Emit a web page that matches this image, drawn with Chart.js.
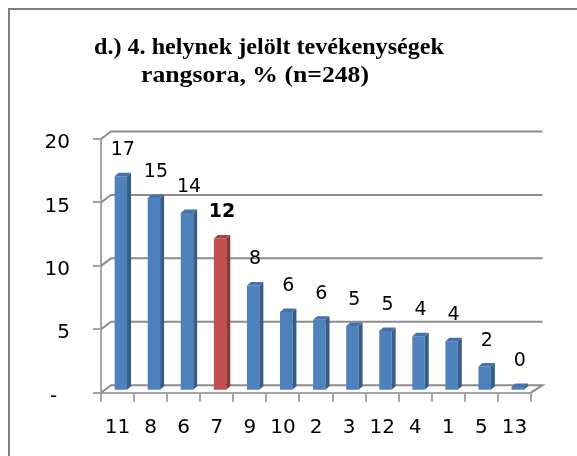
<!DOCTYPE html>
<html>
<head>
<meta charset="utf-8">
<script src="https://cdn.jsdelivr.net/npm/chart.js@4"></script>
<style>
  html, body { margin: 0; padding: 0; background: #fff; overflow: hidden; }
  #frame { position: absolute; left: 8px; top: 8px; width: 700px; height: 600px; border-left: 2px solid #808080; border-top: 2px solid #808080; }
  #wrap { position: absolute; left: 0; top: 0; width: 577px; height: 456px; }
</style>
</head>
<body>
<div id="frame"></div>
<div id="wrap"><canvas id="c" width="577" height="456"></canvas></div>
<script>
// ---- data ----
const categories = ['11', '8', '6', '7', '9', '10', '2', '3', '12', '4', '1', '5', '13'];
const values = [16.9, 15.2, 14.0, 12.0, 8.3, 6.2, 5.6, 5.1, 4.7, 4.3, 3.9, 1.9, 0.3];
const highlightIndex = 3;
const yTicks = [0, 5, 10, 15, 20];
const titleLines = ['d.) 4. helynek jelölt tevékenységek', 'rangsora, % (n=248)'];

// ---- styling ----
const BLUE = '#4F81BD', BLUE_SIDE = '#385D8A', BLUE_TOP = '#4672AA';
const RED = '#C0504D', RED_SIDE = '#8C3836', RED_TOP = '#A8443F';
const GRID = '#8c8c8c', AXIS = '#a6a6a6';
const DX = 10, DY = -7.5;          // depth of the 3D box
const BX = 3.3, BY = -2;           // bar offset into depth
const FX = 4, FY = -3.5;           // bar depth faces
const FONT_FAMILY = '"DejaVu Sans"';
const LBL_FONT = '19px ' + FONT_FAMILY;

const threeD = {
  id: 'threeD',
  beforeDatasetsDraw(chart) {
    const ctx = chart.ctx, y = chart.scales.y, a = chart.chartArea;
    ctx.save();
    ctx.lineWidth = 2;
    ctx.strokeStyle = GRID;
    yTicks.forEach(v => {
      const py = y.getPixelForValue(v);
      ctx.beginPath();
      ctx.moveTo(a.left, py);
      ctx.lineTo(a.left + DX, py + DY);
      ctx.lineTo(a.right + DX + 1.5, py + DY);
      if (v === 0) ctx.lineTo(a.right, py);
      ctx.stroke();
    });
    ctx.restore();
    ctx.save();
    ctx.translate(BX, BY);
  },
  afterDatasetsDraw(chart) {
    const ctx = chart.ctx;
    const meta = chart.getDatasetMeta(0);
    meta.data.forEach((bar, i) => {
      const p = bar.getProps(['x', 'y', 'base', 'width'], true);
      const l = p.x - p.width / 2, r = p.x + p.width / 2;
      const hi = i === highlightIndex;
      ctx.fillStyle = hi ? RED_SIDE : BLUE_SIDE;
      ctx.beginPath();
      ctx.moveTo(r, p.y); ctx.lineTo(r + FX, p.y + FY);
      ctx.lineTo(r + FX, p.base + FY); ctx.lineTo(r, p.base);
      ctx.closePath(); ctx.fill();
      ctx.fillStyle = hi ? RED_TOP : BLUE_TOP;
      ctx.beginPath();
      ctx.moveTo(l, p.y); ctx.lineTo(l + FX, p.y + FY);
      ctx.lineTo(r + FX, p.y + FY); ctx.lineTo(r, p.y);
      ctx.closePath(); ctx.fill();
    });
    ctx.restore();
    // data labels
    ctx.save();
    ctx.fillStyle = '#000';
    ctx.textAlign = 'center';
    ctx.textBaseline = 'alphabetic';
    meta.data.forEach((bar, i) => {
      const p = bar.getProps(['x', 'y'], true);
      ctx.font = (i === highlightIndex ? 'bold ' : '') + LBL_FONT;
      ctx.fillText(values[i].toFixed(0), p.x + BX + 2, p.y + BY - 21);
    });
    ctx.restore();
  },
  afterDraw(chart) {
    const ctx = chart.ctx;
    ctx.save();
    ctx.fillStyle = '#000';
    ctx.font = 'bold 24px "Liberation Serif"';
    ctx.textAlign = 'center';
    ctx.textBaseline = 'alphabetic';
    const lines = [
      { text: titleLines[0], cx: 269, base: 54, w: 350 },
      { text: titleLines[1], cx: 255, base: 82, w: 228 }
    ];
    lines.forEach(L => {
      const m = ctx.measureText(L.text).width;
      ctx.save();
      ctx.translate(L.cx, L.base);
      ctx.scale(L.w / m, 1);
      ctx.fillText(L.text, 0, 0);
      ctx.restore();
    });
    ctx.restore();
  }
};

new Chart(document.getElementById('c'), {
  type: 'bar',
  data: {
    labels: categories,
    datasets: [{
      data: values,
      backgroundColor: values.map((v, i) => i === highlightIndex ? RED : BLUE),
      borderWidth: 0,
      barPercentage: 0.375,
      categoryPercentage: 1
    }]
  },
  options: {
    responsive: false,
    animation: false,
    devicePixelRatio: 1,
    layout: { padding: { top: 139, right: 46, left: 0, bottom: 0 } },
    plugins: { legend: { display: false }, title: { display: false }, tooltip: { enabled: false } },
    scales: {
      x: {
        grid: { display: true, drawOnChartArea: false, drawTicks: true, tickLength: 9, color: AXIS, lineWidth: 2, offset: true },
        border: { display: true, color: AXIS, width: 2 },
        ticks: { color: '#000', font: { family: FONT_FAMILY, size: 20 }, padding: 14, maxRotation: 0, autoSkip: false },
        afterFit(s) { s.height = 456 - 392.7; }
      },
      y: {
        min: 0, max: 20,
        afterBuildTicks(s) { s.ticks = yTicks.map(v => ({ value: v })); },
        grid: { display: true, drawOnChartArea: false, drawTicks: true, tickLength: 8, color: AXIS, lineWidth: 2 },
        border: { display: true, color: AXIS, width: 2 },
        ticks: {
          color: '#000', font: { family: FONT_FAMILY, size: 20 }, padding: 23, labelOffset: 4,
          callback: v => v === 0 ? '-\u00a0\u00a0' : String(v)
        },
        afterFit(s) { s.width = 101; }
      }
    }
  },
  plugins: [threeD]
});
</script>
</body>
</html>
